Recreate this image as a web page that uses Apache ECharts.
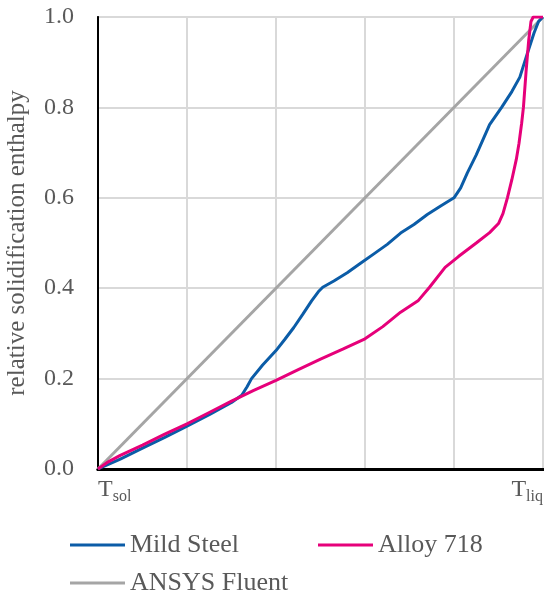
<!DOCTYPE html>
<html>
	<head>
		<meta charset="UTF-8">
		<title>relative solidification enthalpy</title>
		<script type="text/javascript" src="https://cdn.jsdelivr.net/npm/echarts@6/dist/echarts.min.js"></script>
		<style>
			body { margin: 0; background: #fff; }
			#chart { width: 544px; height: 598px; }
		</style>
	</head>
	<body>
		<div id="chart"></div>
		<script>
		// x: 0 = T_sol, 1 = T_liq
		var mildSteel = [
			[0, 0], [0.05, 0.022], [0.1, 0.046], [0.15, 0.07], [0.2, 0.095], [0.25, 0.12],
			[0.3, 0.147], [0.323, 0.163], [0.335, 0.182], [0.345, 0.2], [0.37, 0.23],
			[0.4, 0.262], [0.42, 0.287], [0.44, 0.313], [0.46, 0.342], [0.48, 0.372],
			[0.495, 0.392], [0.505, 0.402], [0.53, 0.416], [0.56, 0.434], [0.59, 0.455],
			[0.62, 0.476], [0.65, 0.497], [0.68, 0.522], [0.71, 0.541], [0.74, 0.563],
			[0.77, 0.582], [0.8, 0.6], [0.815, 0.622], [0.83, 0.655], [0.85, 0.695],
			[0.88, 0.762], [0.907, 0.8], [0.93, 0.835], [0.948, 0.867], [0.965, 0.92],
			[0.98, 0.965], [0.99, 0.99], [1, 1]
		];
		var alloy718 = [
			[0, 0], [0.02, 0.014], [0.05, 0.03], [0.1, 0.053], [0.15, 0.077], [0.2, 0.1],
			[0.25, 0.125], [0.3, 0.15], [0.35, 0.174], [0.4, 0.196], [0.45, 0.22],
			[0.5, 0.243], [0.55, 0.265], [0.6, 0.288], [0.64, 0.315], [0.68, 0.347],
			[0.72, 0.373], [0.745, 0.402], [0.78, 0.446], [0.81, 0.47], [0.85, 0.5],
			[0.88, 0.523], [0.9, 0.543], [0.91, 0.565], [0.92, 0.6], [0.93, 0.64],
			[0.94, 0.685], [0.946, 0.72], [0.952, 0.765], [0.956, 0.8], [0.962, 0.88],
			[0.968, 0.95], [0.973, 0.99], [0.978, 1.0], [1, 1]
		];
		var fluent = [[0, 0], [1, 1]];

		var serif = "Liberation Serif";
		var gray = "#595959";

		function legendFor(name, left, top) {
			return {
				data: [name], left: left, top: top, padding: 0,
				icon: "rect", itemWidth: 55, itemHeight: 3,
				formatter: "{a|{name}}",
				textStyle: {
					fontFamily: serif, fontSize: 26, color: gray,
					rich: { a: { fontFamily: serif, fontSize: 26, color: gray } }
				}
			};
		}

		var option = {
			animation: false,
			backgroundColor: "#fff",
			textStyle: { fontFamily: serif },
			grid: { left: 98, right: 1, top: 17, bottom: 129, outerBoundsMode: "none", containLabel: false },
			legend: [
				legendFor("Mild Steel", 70, 532),
				legendFor("Alloy 718", 318, 532),
				legendFor("ANSYS Fluent", 70, 570)
			],
			xAxis: [{
				type: "value", min: 0, max: 1, interval: 0.2,
				axisLine: { lineStyle: { color: "#000", width: 3 } },
				axisTick: { show: false },
				splitLine: { lineStyle: { color: "#d9d9d9", width: 2 } },
				axisLabel: {
					margin: 6, alignMinLabel: "left", alignMaxLabel: "right",
					fontFamily: serif, color: gray,
					formatter: function (v) {
						if (v === 0) return "{t|T}{s|sol}";
						if (v === 1) return "{t|T}{s|liq}";
						return "";
					},
					rich: {
						t: { fontFamily: serif, fontSize: 24, color: gray },
						s: { fontFamily: serif, fontSize: 16, color: gray, padding: [14, 0, 0, 0], verticalAlign: "bottom" }
					}
				}
			}, {
				type: "value", min: 0, max: 1, position: "top",
				axisLine: { lineStyle: { color: "#000", width: 3 } },
				axisTick: { show: false }, axisLabel: { show: false }, splitLine: { show: false }
			}],
			yAxis: [{
				type: "value", min: 0, max: 1, interval: 0.2,
				name: "relative solidification enthalpy",
				nameLocation: "middle", nameGap: 68, nameRotate: 90,
				nameTextStyle: { fontFamily: serif, fontSize: 25, color: gray },
				axisLine: { show: true, lineStyle: { color: "#595959", width: 2 } },
				axisTick: { show: false },
				splitLine: { lineStyle: { color: "#d9d9d9", width: 2 } },
				axisLabel: {
					margin: 24, fontFamily: serif, fontSize: 24, color: gray,
					formatter: function (v) { return v.toFixed(1); }
				}
			}, {
				type: "value", min: 0, max: 1, position: "right",
				axisLine: { show: true, lineStyle: { color: "#000", width: 2 } },
				axisTick: { show: false }, axisLabel: { show: false }, splitLine: { show: false }
			}],
			series: [{
				name: "ANSYS Fluent", type: "line", data: fluent, showSymbol: false,
				lineStyle: { color: "#a5a5a5", width: 3 }, itemStyle: { color: "#a5a5a5" }
			}, {
				name: "Mild Steel", type: "line", data: mildSteel, showSymbol: false,
				lineStyle: { color: "#0b5ca7", width: 3 }, itemStyle: { color: "#0b5ca7" }
			}, {
				name: "Alloy 718", type: "line", data: alloy718, showSymbol: false,
				lineStyle: { color: "#e6007a", width: 3 }, itemStyle: { color: "#e6007a" }
			}]
		};

		var chart = echarts.init(document.getElementById("chart"));
		chart.setOption(option);
		</script>
	</body>
</html>
